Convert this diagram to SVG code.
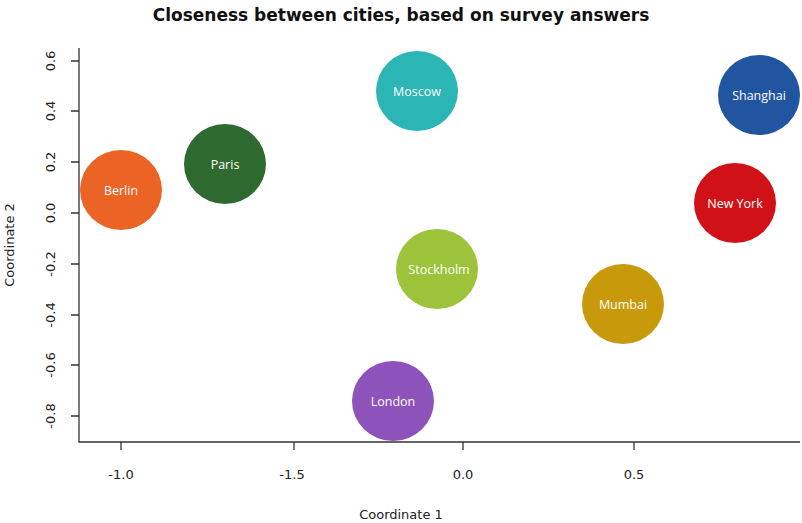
<svg xmlns="http://www.w3.org/2000/svg" width="802" height="523" viewBox="0 0 802 523">
<style>
.ax{stroke:#333;stroke-width:1.3;fill:none}
.t{font-family:"DejaVu Sans",sans-serif;font-size:13px;fill:#222}
.c{font-family:"Open Sans",sans-serif;font-size:12.5px;fill:#fff;text-anchor:middle}
</style>
<rect width="802" height="523" fill="#fff"/>
<text x="401" y="21" font-family="DejaVu Sans,sans-serif" font-weight="bold" font-size="17" text-anchor="middle" fill="#111">Closeness between cities, based on survey answers</text>
<g id="axes">
<path class="ax" d="M79,48V442H800"/>
<path class="ax" d="M121,442v8M294,442v8M463,442v8M634,442v8M79,61h-8M79,111h-8M79,162h-8M79,213h-8M79,264h-8M79,315h-8M79,365h-8M79,416h-8"/>
<g class="t" text-anchor="middle">
<text x="121" y="479">-1.0</text><text x="292" y="479">-1.5</text><text x="463" y="479">0.0</text><text x="634" y="479">0.5</text>
<text x="401" y="519">Coordinate 1</text>
</g>
<g class="t" text-anchor="middle">
<text transform="translate(55,61) rotate(-90)">0.6</text>
<text transform="translate(55,111) rotate(-90)">0.4</text>
<text transform="translate(55,162) rotate(-90)">0.2</text>
<text transform="translate(55,213) rotate(-90)">0.0</text>
<text transform="translate(55,264) rotate(-90)">-0.2</text>
<text transform="translate(55,315) rotate(-90)">-0.4</text>
<text transform="translate(55,365) rotate(-90)">-0.6</text>
<text transform="translate(55,416) rotate(-90)">-0.8</text>
<text transform="translate(14,245) rotate(-90)">Coordinate 2</text>
</g>
</g>
<g id="berlin"><ellipse cx="121" cy="190" rx="41" ry="40" fill="#eb6325"/><text class="c" x="121" y="195">Berlin</text></g>
<g id="paris"><ellipse cx="225" cy="164" rx="41" ry="40" fill="#2e6a2f"/><text class="c" x="225" y="169">Paris</text></g>
<g id="moscow"><ellipse cx="417" cy="91" rx="41" ry="40" fill="#2bb5b4"/><text class="c" x="417" y="96">Moscow</text></g>
<g id="shanghai"><ellipse cx="759" cy="95" rx="41" ry="40" fill="#2155a0"/><text class="c" x="759" y="100">Shanghai</text></g>
<g id="newyork"><ellipse cx="735" cy="203" rx="41" ry="40" fill="#d01218"/><text class="c" x="735" y="208">New York</text></g>
<g id="stockholm"><ellipse cx="437" cy="269" rx="41" ry="40" fill="#9dc33a"/><text class="c" x="439" y="274">Stockholm</text></g>
<g id="mumbai"><ellipse cx="623" cy="304" rx="41" ry="40" fill="#c8990a"/><text class="c" x="623" y="309">Mumbai</text></g>
<g id="london"><ellipse cx="393" cy="401" rx="41" ry="40" fill="#8e52bb"/><text class="c" x="393" y="406">London</text></g>
<g id="connectors"/>
</svg>
